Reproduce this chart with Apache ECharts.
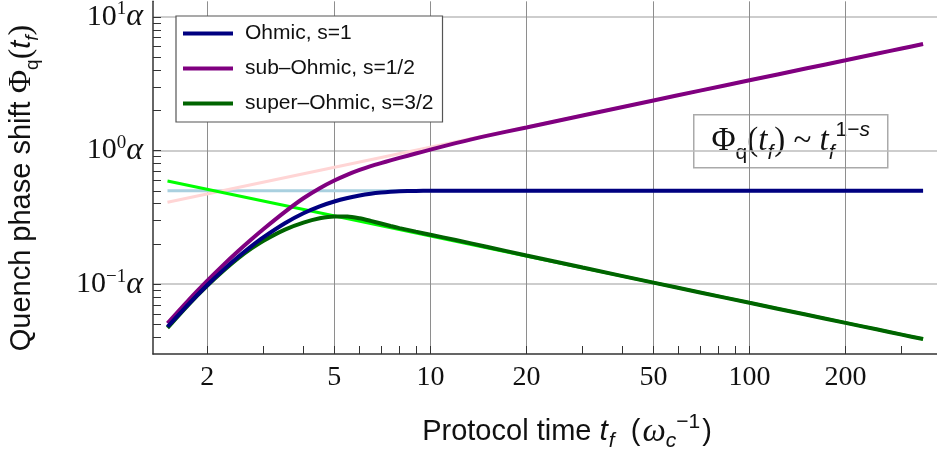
<!DOCTYPE html>
<html>
<head>
<meta charset="utf-8">
<script src="https://cdn.jsdelivr.net/npm/echarts@6/dist/echarts.min.js"></script>
<style>
  html, body { margin: 0; padding: 0; background: #fff; }
  #chart { width: 937px; height: 454px; }
</style>
</head>
<body>
<div id="chart"></div>
<script>
  // protocol time t_f (units of 1/omega_c)
  const tf = [1.5, 1.75, 2, 2.25, 2.5, 2.75, 3, 3.5, 4, 4.5, 5, 5.5, 6, 6.5, 7, 7.5, 8, 9, 10, 12, 15, 20, 30, 50, 70, 100, 150, 200, 250, 300, 350]
  // phase shift in units of alpha
  const ohmic = [0.048, 0.0713, 0.0985, 0.1285, 0.1602, 0.1928, 0.225, 0.286, 0.3396, 0.3826, 0.4158, 0.4412, 0.4609, 0.4753, 0.4851, 0.4915, 0.4956, 0.4985, 0.5, 0.5, 0.5, 0.5, 0.5, 0.5, 0.5, 0.5, 0.5, 0.5, 0.5, 0.5, 0.5]
  const subOhmic = [0.051, 0.0764, 0.1062, 0.140, 0.177, 0.2167, 0.2588, 0.3477, 0.4395, 0.5231, 0.597, 0.6614, 0.7166, 0.7647, 0.8061, 0.8443, 0.881, 0.9506, 1.016, 1.136, 1.288, 1.49, 1.83, 2.37, 2.81, 3.36, 4.11, 4.74, 5.3, 5.81, 6.28]
  const superOhmic = [0.047, 0.0706, 0.0975, 0.1265, 0.1564, 0.185, 0.2114, 0.256, 0.2888, 0.3113, 0.3215, 0.321, 0.311, 0.2975, 0.2845, 0.2725, 0.2628, 0.2472, 0.2345, 0.2138, 0.1905, 0.164, 0.1331, 0.1027, 0.0867, 0.0725, 0.0592, 0.0513, 0.0459, 0.0419, 0.0388]
  // asymptotes (end points of straight lines on log-log axes)
  const asymT = [1.5, 350]
  const asymOhmic = [0.5, 0.5]
  const asymSub = [0.41, 6.27]
  const asymSuper = [0.592, 0.0388]

  const xMajorTicks = [2, 5, 10, 20, 50, 100, 200]
  const xMinorTicks = [3, 4, 6, 7, 8, 9, 30, 40, 60, 70, 80, 90, 300]
  const yMajorTicks = [0.1, 1, 10]
  const yMinorTicks = [0.04, 0.05, 0.06, 0.07, 0.08, 0.09, 0.2, 0.3, 0.4, 0.5, 0.6, 0.7, 0.8, 0.9, 2, 3, 4, 5, 6, 7, 8, 9]

  const SERIF = "'Liberation Serif', 'DejaVu Serif', serif"
  const SANS = "'Liberation Sans', Arial, sans-serif"

  const pairs = (xs, ys) => xs.map((x, i) => [x, ys[i]])

  const chart = echarts.init(document.getElementById('chart'), null, { renderer: 'canvas' })

  const lineSeries = (name, ys, color, width, xs) => ({
    name,
    type: 'line',
    data: pairs(xs || tf, ys),
    showSymbol: false,
    smooth: 0.25,
    silent: true,
    lineStyle: { color, width },
    itemStyle: { color },
  })

  const logX = { type: 'log', logBase: 10, min: 1.351, max: 387, position: 'bottom' }
  const logY = { type: 'log', logBase: 10, min: 0.03, max: 13.1, position: 'left' }
  const tickStyle = { color: '#333', width: 1 }

  // rich text pieces shared by the titles
  const rt = (family, size, extra) => Object.assign({ fontFamily: family, fontSize: size, fill: '#111' }, extra || {})

  const option = {
    animation: false,
    grid: { left: 153, right: 0, top: 0, bottom: 100, containLabel: false },
    legend: {
      data: ['Ohmic, s=1', 'sub–Ohmic, s=1/2', 'super–Ohmic, s=3/2'],
      orient: 'vertical',
      left: 176,
      top: 16,
      padding: [7, 9, 8, 7],
      itemGap: 14,
      itemWidth: 50,
      itemHeight: 4,
      icon: 'rect',
      selectedMode: false,
      backgroundColor: '#fff',
      borderColor: '#555',
      borderWidth: 1.2,
      textStyle: { fontFamily: SANS, fontSize: 21, color: '#111', padding: [0, 0, 0, 7] },
    },
    xAxis: [
      Object.assign({}, logX, {
        axisLine: { show: true, onZero: false, lineStyle: { color: '#333', width: 1.5 } },
        axisTick: { show: true, inside: true, length: 8, customValues: xMajorTicks, lineStyle: tickStyle },
        axisLabel: {
          customValues: xMajorTicks,
          margin: 10,
          fontFamily: SERIF,
          fontSize: 28,
          color: '#111',
          formatter: (v) => String(Math.round(v)),
        },
        splitLine: { show: true, lineStyle: { color: '#8e8e8e', width: 1 } },
      }),
      Object.assign({}, logX, {
        axisLine: { show: false },
        axisTick: { show: true, inside: true, length: 8, customValues: xMinorTicks, lineStyle: tickStyle },
        axisLabel: { show: false },
        splitLine: { show: false },
      }),
    ],
    yAxis: [
      Object.assign({}, logY, {
        axisLine: { show: true, onZero: false, lineStyle: { color: '#333', width: 1.5 } },
        axisTick: { show: true, inside: true, length: 8, customValues: yMajorTicks, lineStyle: tickStyle },
        axisLabel: {
          customValues: yMajorTicks,
          margin: 10,
          formatter: (v) => {
            const e = Math.round(Math.log10(v))
            return '{b|10}{s|' + String(e).replace('-', '−') + '}{a|α}'
          },
          rich: {
            b: { fontFamily: SERIF, fontSize: 30, color: '#111', lineHeight: 34 },
            s: { fontFamily: SERIF, fontSize: 19, color: '#111', lineHeight: 20, verticalAlign: 'top' },
            a: { fontFamily: SERIF, fontSize: 32, fontStyle: 'italic', color: '#111', lineHeight: 34 },
          },
        },
        splitLine: { show: true, lineStyle: { color: '#bdbdbd', width: 1.5 } },
      }),
      Object.assign({}, logY, {
        axisLine: { show: false },
        axisTick: { show: true, inside: true, length: 8, customValues: yMinorTicks, lineStyle: tickStyle },
        axisLabel: { show: false },
        splitLine: { show: false },
      }),
    ],
    series: [
      lineSeries('asym-ohmic', asymOhmic, '#a9d0df', 3, asymT),
      lineSeries('asym-sub', asymSub, '#ffd5d5', 3, asymT),
      lineSeries('asym-super', asymSuper, '#00ff00', 3, asymT),
      lineSeries('sub–Ohmic, s=1/2', subOhmic, '#800080', 4),
      lineSeries('super–Ohmic, s=3/2', superOhmic, '#006400', 4),
      lineSeries('Ohmic, s=1', ohmic, '#000080', 4),
    ],
    graphic: [
      {
        type: 'group',
        left: 693,
        top: 114,
        children: [
          {
            type: 'rect',
            shape: { x: 0, y: 0, width: 194, height: 53 },
            style: { fill: '#fff', stroke: '#aaa', lineWidth: 1.5 },
          },
          {
            type: 'text',
            x: 97,
            y: 27,
            style: {
              text: '{p|Φ}{sb|q}{n|(}{it|t}{isb|f}{n|)}{n| ~ }{it|t}{isb|f}{sp|1−}{isp|s}',
              align: 'center',
              verticalAlign: 'middle',
              rich: {
                p: rt(SERIF, 33, { lineHeight: 44 }),
                n: rt(SERIF, 33, { lineHeight: 44 }),
                it: rt(SERIF, 33, { fontStyle: 'italic', lineHeight: 44 }),
                sb: rt(SANS, 21, { lineHeight: 18, verticalAlign: 'bottom' }),
                isb: rt(SANS, 21, { fontStyle: 'italic', lineHeight: 18, verticalAlign: 'bottom', padding: [0, 1, 0, 0] }),
                sp: rt(SANS, 21, { lineHeight: 20, verticalAlign: 'top' }),
                isp: rt(SANS, 21, { fontStyle: 'italic', lineHeight: 20, verticalAlign: 'top' }),
              },
            },
          },
        ],
      },
      {
        type: 'text',
        x: 567,
        y: 432,
        style: {
          text: '{t|Protocol time }{it|t}{isb|f}{t|  (}{w|ω}{isb|c}{sp|−1}{t|)}',
          align: 'center',
          verticalAlign: 'middle',
          rich: {
            t: rt(SANS, 29, { lineHeight: 40 }),
            it: rt(SANS, 30, { fontStyle: 'italic', lineHeight: 40, padding: [0, 1, 0, 0] }),
            w: rt(SERIF, 33, { fontStyle: 'italic', lineHeight: 40, padding: [0, 0, 0, 2] }),
            isb: rt(SANS, 21, { fontStyle: 'italic', lineHeight: 16, verticalAlign: 'bottom' }),
            sp: rt(SANS, 21, { lineHeight: 18, verticalAlign: 'top', padding: [0, 2, 0, 0] }),
          },
        },
      },
      {
        type: 'text',
        x: 22,
        y: 188,
        rotation: Math.PI / 2,
        style: {
          text: '{t|Quench phase shift }{p|Φ}{sb|q}{n|(}{it|t}{isb|f}{n|)}',
          align: 'center',
          verticalAlign: 'middle',
          rich: {
            t: rt(SANS, 29, { lineHeight: 40 }),
            p: rt(SERIF, 32, { lineHeight: 40 }),
            n: rt(SERIF, 32, { lineHeight: 40 }),
            it: rt(SANS, 29, { fontStyle: 'italic', lineHeight: 40 }),
            sb: rt(SANS, 19, { lineHeight: 16, verticalAlign: 'bottom' }),
            isb: rt(SANS, 19, { fontStyle: 'italic', lineHeight: 16, verticalAlign: 'bottom' }),
          },
        },
      },
    ],
  }

  chart.setOption(option)
  window.addEventListener('resize', () => chart.resize())
</script>
</body>
</html>
